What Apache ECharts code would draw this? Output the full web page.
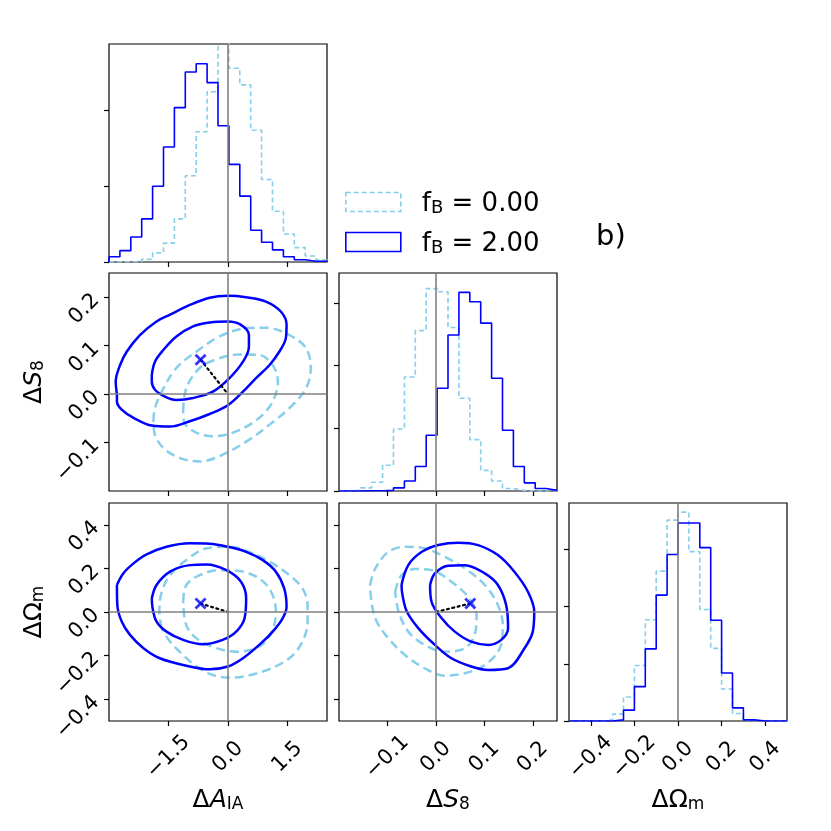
<!DOCTYPE html>
<html>
<head>
<meta charset="utf-8">
<script src="https://cdn.jsdelivr.net/npm/echarts@6/dist/echarts.min.js"></script>
<style>
  html, body { margin: 0; padding: 0; background: #fff; }
  #corner { width: 831px; height: 831px; }
</style>
</head>
<body>
<div id="corner"></div>
<script>
var myChart = echarts.init(document.getElementById('corner'), null, { renderer: 'canvas' });

// axis ranges and ticks
var aiaRange = [-3.0, 2.5];
var s8Range = [-0.2, 0.25];
var omRange = [-0.5, 0.5];
var aiaTicks = [-1.5, 0, 1.5];
var s8Ticks = [-0.1, 0, 0.1, 0.2];
var omTicks = [-0.4, -0.2, 0, 0.2, 0.4];
var histTicksAia = [0, 1, 2];
var histTicksS8 = [0, 1, 2, 3];
var histTicksOm = [0, 1, 2, 3];
var histMaxAia = 2.88;
var histMaxS8 = 3.48;
var histMaxOm = 3.81;

// truth and shift of the f_B = 2 run
var truthAia = 0, truthS8 = 0, truthOm = 0;
var shiftAia = -0.69, shiftS8 = 0.071, shiftOm = 0.039;

// 1D histograms (20 bins over the axis range)
var aiaHistF0 = [0.004, 0.004, 0.004, 0.035, 0.12, 0.25, 0.57, 1.14, 1.72, 2.25, 3.10, 2.56, 2.34, 1.74, 1.09, 0.67, 0.37, 0.19, 0.08, 0.03];
var aiaHistF2 = [0.07, 0.15, 0.33, 0.57, 1.00, 1.52, 2.04, 2.51, 2.62, 2.37, 1.80, 1.29, 0.87, 0.42, 0.26, 0.16, 0.07, 0.03, 0.01, 0.01];
var s8HistF0 = [0.005, 0.01, 0.05, 0.14, 0.41, 0.99, 1.82, 2.56, 3.23, 3.18, 2.61, 1.48, 0.82, 0.33, 0.16, 0.04, 0.01, 0, 0, 0];
var s8HistF2 = [0, 0, 0.005, 0.005, 0.01, 0.05, 0.16, 0.39, 0.89, 1.64, 2.49, 3.17, 3.02, 2.68, 1.80, 0.97, 0.39, 0.13, 0.04, 0.01];
var omHistF0 = [0, 0, 0, 0.02, 0.12, 0.42, 0.97, 1.77, 2.62, 3.51, 3.65, 2.96, 1.95, 1.27, 0.56, 0.13, 0.01, 0, 0, 0];
var omHistF2 = [0, 0, 0, 0, 0.02, 0.19, 0.60, 1.26, 2.20, 2.91, 3.46, 3.46, 3.03, 1.76, 0.84, 0.23, 0.02, 0, 0, 0];

// 2D contours (68% inner, 95% outer)
var aiaS8F2Outer = [[-2.80,0.0],[-2.83,0.026],[-2.72,0.060],[-2.55,0.088],[-2.22,0.122],[-1.80,0.150],[-1.46,0.164],[-0.96,0.184],[-0.46,0.199],[0.0,0.203],[0.46,0.200],[0.96,0.191],[1.34,0.170],[1.48,0.143],[1.46,0.115],[1.30,0.088],[1.05,0.060],[0.71,0.033],[0.38,0.005],[0.0,-0.023],[-0.46,-0.041],[-0.96,-0.056],[-1.46,-0.067],[-1.92,-0.065],[-2.38,-0.049],[-2.68,-0.032],[-2.80,-0.015]];
var aiaS8F2Inner = [[-1.92,0.040],[-1.84,0.067],[-1.63,0.091],[-1.30,0.119],[-0.88,0.140],[-0.46,0.148],[0.0,0.150],[0.33,0.143],[0.53,0.122],[0.53,0.098],[0.38,0.067],[0.04,0.033],[-0.38,0.005],[-0.88,-0.008],[-1.30,-0.012],[-1.59,-0.005],[-1.84,0.009],[-1.92,0.026]];
var aiaS8F0Outer = [[-1.88,-0.056],[-1.84,-0.029],[-1.67,0.005],[-1.30,0.054],[-0.79,0.088],[-0.21,0.119],[0.46,0.136],[0.96,0.137],[1.55,0.122],[1.97,0.095],[2.09,0.054],[1.97,0.012],[1.55,-0.029],[1.05,-0.063],[0.54,-0.094],[-0.13,-0.125],[-0.71,-0.139],[-1.21,-0.132],[-1.63,-0.111],[-1.84,-0.084]];
var aiaS8F0Inner = [[-1.13,-0.036],[-1.05,0.012],[-0.71,0.054],[-0.21,0.074],[0.29,0.082],[0.79,0.081],[1.13,0.060],[1.26,0.026],[1.13,-0.015],[0.79,-0.049],[0.21,-0.077],[-0.38,-0.087],[-0.79,-0.080],[-1.09,-0.060]];

var aiaOmF2Outer = [[-2.80,0.124],[-2.64,0.177],[-2.38,0.223],[-2.05,0.264],[-1.55,0.299],[-0.96,0.315],[-0.46,0.313],[0.0,0.299],[0.46,0.276],[0.88,0.238],[1.21,0.185],[1.42,0.108],[1.48,0.024],[1.38,-0.029],[1.13,-0.090],[0.79,-0.151],[0.38,-0.212],[0.0,-0.250],[-0.46,-0.263],[-0.96,-0.250],[-1.72,-0.212],[-2.13,-0.166],[-2.47,-0.105],[-2.68,-0.044],[-2.79,0.032]];
var aiaOmF2Inner = [[-1.92,0.063],[-1.80,0.124],[-1.46,0.185],[-0.96,0.215],[-0.54,0.218],[-0.04,0.192],[0.33,0.139],[0.46,0.063],[0.42,-0.029],[0.21,-0.090],[-0.13,-0.128],[-0.63,-0.148],[-1.13,-0.128],[-1.55,-0.090],[-1.80,-0.044],[-1.90,0.017]];
var aiaOmF0Outer = [[-1.67,-0.075],[-1.73,0.002],[-1.67,0.093],[-1.46,0.169],[-1.05,0.238],[-0.54,0.292],[0.04,0.299],[0.54,0.276],[1.05,0.231],[1.55,0.169],[1.88,0.108],[2.01,0.032],[2.01,-0.044],[1.88,-0.136],[1.55,-0.212],[0.88,-0.273],[0.04,-0.301],[-0.38,-0.289],[-0.79,-0.250],[-1.13,-0.197],[-1.46,-0.136]];
var aiaOmF0Inner = [[-1.13,0.047],[-1.05,0.124],[-0.71,0.169],[-0.21,0.192],[0.29,0.188],[0.79,0.154],[1.09,0.093],[1.21,0.002],[1.11,-0.090],[0.79,-0.159],[0.21,-0.182],[-0.29,-0.166],[-0.79,-0.121],[-1.05,-0.060]];

var s8OmF2Outer = [[-0.071,0.124],[-0.057,0.215],[-0.029,0.276],[0.005,0.307],[0.046,0.318],[0.087,0.307],[0.128,0.261],[0.162,0.185],[0.190,0.093],[0.203,0.002],[0.200,-0.090],[0.183,-0.166],[0.149,-0.258],[0.108,-0.266],[0.073,-0.250],[0.032,-0.212],[-0.002,-0.151],[-0.036,-0.075],[-0.060,0.002],[-0.069,0.078]];
var s8OmF2Inner = [[-0.012,0.124],[-0.002,0.177],[0.025,0.212],[0.060,0.215],[0.101,0.177],[0.128,0.124],[0.145,0.032],[0.149,-0.075],[0.135,-0.128],[0.108,-0.151],[0.073,-0.136],[0.039,-0.090],[0.012,-0.029],[-0.009,0.047]];
var s8OmF0Outer = [[-0.136,0.124],[-0.125,0.200],[-0.098,0.276],[-0.064,0.299],[-0.023,0.292],[0.018,0.253],[0.060,0.200],[0.101,0.124],[0.128,0.032],[0.138,-0.060],[0.132,-0.166],[0.101,-0.243],[0.060,-0.281],[0.018,-0.292],[-0.023,-0.258],[-0.064,-0.197],[-0.098,-0.121],[-0.122,-0.044],[-0.132,0.032]];
var s8OmF0Inner = [[-0.084,0.093],[-0.071,0.169],[-0.043,0.197],[-0.009,0.192],[0.032,0.139],[0.066,0.070],[0.084,-0.014],[0.080,-0.105],[0.060,-0.166],[0.018,-0.182],[-0.023,-0.151],[-0.057,-0.090],[-0.077,0.002]];

var colF0 = '#87ceeb';
var colF2 = '#0000ff';
var font = 'DejaVu Sans';

// step outline of a histogram
function stepLine(counts, range) {
    var n = counts.length;
    var w = (range[1] - range[0]) / n;
    var pts = [[range[0], 0]];
    for (var i = 0; i < n; i++) {
        pts.push([range[0] + i * w, counts[i]]);
        pts.push([range[0] + (i + 1) * w, counts[i]]);
    }
    pts.push([range[1], 0]);
    return pts;
}

function closeLoop(pts) {
    return pts.concat([pts[0]]);
}

function fmt(v) {
    return (v < 0 ? '\u2212' : '') + Math.abs(v).toFixed(1);
}

var subRich = {
    d: { fontFamily: font, fontSize: 25, lineHeight: 30, verticalAlign: 'bottom', color: '#000' },
    i: { fontFamily: font, fontSize: 25, fontStyle: 'italic', lineHeight: 30, verticalAlign: 'bottom', color: '#000' },
    s: { fontFamily: font, fontSize: 17, lineHeight: 12, verticalAlign: 'bottom', color: '#000' }
};

// grid i: [left, top]
var gridPos = [[109, 44], [109, 273], [339, 273], [109, 503], [339, 503], [569, 503]];
var grids = gridPos.map(function (p) {
    return { left: p[0], top: p[1], width: 218, height: 218, show: true, borderColor: '#000', borderWidth: 1.2, containLabel: false };
});

function makeAxis(kind, gi, range, ticks, labels, name) {
    var ax = {
        type: 'value',
        gridIndex: gi,
        min: range[0],
        max: range[1],
        splitLine: { show: false },
        axisLine: { show: false, onZero: false },
        axisTick: { show: true, inside: false, length: 5, lineStyle: { color: '#000', width: 1.2 }, customValues: ticks },
        axisLabel: {
            show: labels,
            customValues: ticks,
            formatter: fmt,
            rotate: 45,
            fontFamily: font,
            fontSize: 21,
            color: '#000'
        }
    };
    if (kind === 'x') {
        ax.position = 'bottom';
        ax.axisLabel.align = 'center';
        ax.axisLabel.verticalAlign = 'middle';
        ax.axisLabel.margin = 36;
    } else {
        ax.position = 'left';
        ax.axisLabel.margin = 13;
    }
    if (name) {
        ax.name = name;
        ax.nameLocation = 'middle';
        ax.nameGap = kind === 'x' ? 62 : 62;
        ax.nameTextStyle = { fontFamily: font, fontSize: 25, color: '#000', rich: subRich };
    }
    return ax;
}

var nameAia = '{d|\u0394}{i|A}{s|IA}';
var nameS8 = '{d|\u0394}{i|S}{s|8}';
var nameOm = '{d|\u0394\u03A9}{s|m}';

var xAxes = [
    makeAxis('x', 0, aiaRange, aiaTicks, false),
    makeAxis('x', 1, aiaRange, aiaTicks, false),
    makeAxis('x', 2, s8Range, s8Ticks, false),
    makeAxis('x', 3, aiaRange, aiaTicks, true, nameAia),
    makeAxis('x', 4, s8Range, s8Ticks, true, nameS8),
    makeAxis('x', 5, omRange, omTicks, true, nameOm)
];
var yAxes = [
    makeAxis('y', 0, [0, histMaxAia], histTicksAia, false),
    makeAxis('y', 1, s8Range, s8Ticks, true, nameS8),
    makeAxis('y', 2, [0, histMaxS8], histTicksS8, false),
    makeAxis('y', 3, omRange, omTicks, true, nameOm),
    makeAxis('y', 4, omRange, omTicks, false),
    makeAxis('y', 5, [0, histMaxOm], histTicksOm, false)
];

function histSeries(name, counts, range, gi, dashed) {
    return {
        name: name,
        type: 'line',
        xAxisIndex: gi,
        yAxisIndex: gi,
        data: stepLine(counts, range),
        symbol: 'none',
        z: 3,
        lineStyle: { color: dashed ? colF0 : colF2, width: 1.6, type: dashed ? [5, 3] : 'solid' },
        itemStyle: { color: dashed ? colF0 : colF2 }
    };
}

function contourSeries(name, pts, gi, dashed) {
    return {
        name: name,
        type: 'line',
        xAxisIndex: gi,
        yAxisIndex: gi,
        data: closeLoop(pts),
        symbol: 'none',
        smooth: 0.35,
        z: 3,
        lineStyle: { color: dashed ? colF0 : colF2, width: 2.5, type: dashed ? [9, 5] : 'solid' },
        itemStyle: { color: dashed ? colF0 : colF2 }
    };
}

// gray truth lines
function truthSeries(gi, tx, ty) {
    var lines = [{ xAxis: tx }];
    if (ty !== null) lines.push({ yAxis: ty });
    return {
        type: 'line',
        xAxisIndex: gi,
        yAxisIndex: gi,
        data: [],
        z: 1,
        markLine: {
            silent: true,
            symbol: 'none',
            label: { show: false },
            lineStyle: { color: '#808080', width: 1.6, type: 'solid' },
            data: lines
        }
    };
}

var crossPath = 'path://M0,1.6L1.6,0L5,3.4L8.4,0L10,1.6L6.6,5L10,8.4L8.4,10L5,6.6L1.6,10L0,8.4L3.4,5Z';

function shiftSeries(gi, sx, sy, tx, ty) {
    return [{
        type: 'line',
        xAxisIndex: gi,
        yAxisIndex: gi,
        data: [[sx, sy], [tx, ty]],
        symbol: 'none',
        z: 4,
        lineStyle: { color: '#000', width: 2.2, type: [2, 3.5], cap: 'round' }
    }, {
        type: 'scatter',
        xAxisIndex: gi,
        yAxisIndex: gi,
        data: [[sx, sy]],
        symbol: crossPath,
        symbolSize: 12,
        z: 5,
        itemStyle: { color: colF2 }
    }];
}

var series = [
    truthSeries(0, truthAia, null),
    histSeries('fB0', aiaHistF0, aiaRange, 0, true),
    histSeries('fB2', aiaHistF2, aiaRange, 0, false),

    truthSeries(1, truthAia, truthS8),
    contourSeries('fB0', aiaS8F0Outer, 1, true),
    contourSeries('fB0', aiaS8F0Inner, 1, true),
    contourSeries('fB2', aiaS8F2Outer, 1, false),
    contourSeries('fB2', aiaS8F2Inner, 1, false),

    truthSeries(2, truthS8, null),
    histSeries('fB0', s8HistF0, s8Range, 2, true),
    histSeries('fB2', s8HistF2, s8Range, 2, false),

    truthSeries(3, truthAia, truthOm),
    contourSeries('fB0', aiaOmF0Outer, 3, true),
    contourSeries('fB0', aiaOmF0Inner, 3, true),
    contourSeries('fB2', aiaOmF2Outer, 3, false),
    contourSeries('fB2', aiaOmF2Inner, 3, false),

    truthSeries(4, truthS8, truthOm),
    contourSeries('fB0', s8OmF0Outer, 4, true),
    contourSeries('fB0', s8OmF0Inner, 4, true),
    contourSeries('fB2', s8OmF2Outer, 4, false),
    contourSeries('fB2', s8OmF2Inner, 4, false),

    truthSeries(5, truthOm, null),
    histSeries('fB0', omHistF0, omRange, 5, true),
    histSeries('fB2', omHistF2, omRange, 5, false)
];
series = series.concat(shiftSeries(1, shiftAia, shiftS8, truthAia, truthS8));
series = series.concat(shiftSeries(3, shiftAia, shiftOm, truthAia, truthOm));
series = series.concat(shiftSeries(4, shiftS8, shiftOm, truthS8, truthOm));

var option = {
    animation: false,
    backgroundColor: '#fff',
    grid: grids,
    xAxis: xAxes,
    yAxis: yAxes,
    legend: {
        left: 345,
        top: 191,
        padding: 0,
        orient: 'vertical',
        itemWidth: 55,
        itemHeight: 19,
        itemGap: 14,
        selectedMode: false,
        data: [
            { name: 'fB0', icon: 'rect', itemStyle: { color: 'rgba(0,0,0,0)', borderColor: colF0, borderWidth: 1.6, borderType: [5, 3] } },
            { name: 'fB2', icon: 'rect', itemStyle: { color: 'rgba(0,0,0,0)', borderColor: colF2, borderWidth: 1.6, borderType: 'solid' } }
        ],
        formatter: function (name) {
            var val = name === 'fB0' ? '0.00' : '2.00';
            return '{f|f}{s|B}{n| = ' + val + '}';
        },
        textStyle: {
            rich: {
                f: { fontFamily: font, fontSize: 26, lineHeight: 30, verticalAlign: 'bottom', padding: [0, 0, 0, 16], color: '#000' },
                n: { fontFamily: font, fontSize: 26, lineHeight: 30, verticalAlign: 'bottom', color: '#000' },
                s: { fontFamily: font, fontSize: 18, lineHeight: 12, verticalAlign: 'bottom', color: '#000' }
            }
        }
    },
    graphic: [{
        type: 'text',
        left: 596,
        top: 223,
        style: { text: 'b)', fontFamily: font, fontSize: 29, fill: '#000' }
    }],
    series: series
};

myChart.setOption(option);
</script>
</body>
</html>
